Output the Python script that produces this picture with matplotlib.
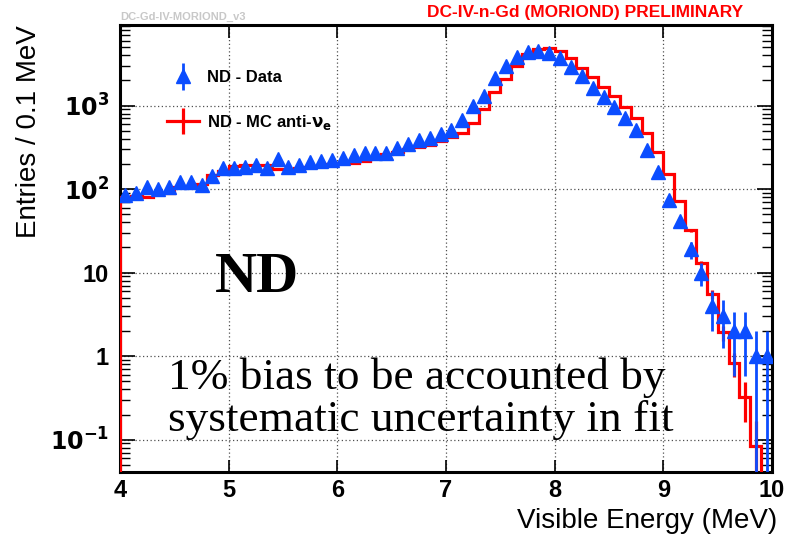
import numpy as np
import matplotlib
matplotlib.use("Agg")
import matplotlib.pyplot as plt
from matplotlib.lines import Line2D
from matplotlib.legend_handler import HandlerErrorbar
from matplotlib.container import ErrorbarContainer
from matplotlib.ticker import FixedLocator, FixedFormatter, LogLocator, NullFormatter

# ---------------- data ----------------
e_min, e_max, n_bins = 4.0, 10.0, 60

data_counts = [85, 90, 107, 100, 107, 120, 120, 112, 143, 177,
               177, 185, 194, 177, 227, 185, 194, 209, 218, 222,
               236, 255, 268, 268, 270, 314, 349, 386, 405, 450,
               514, 664, 990, 1300, 2120, 2970, 3780, 4340, 4540, 4220,
               3670, 2920, 2260, 1630, 1250, 951, 703, 509, 293, 161,
               74, 41, 19, 10, 4, 3, 2, 2, 1, 1]

mc_counts = [81, 82, 80, 89, 90, 106, 106, 116, 147, 165,
             190, 195, 195, 192, 175, 172, 178, 183, 190, 199,
             203, 205, 218, 235, 260, 280, 299, 317, 340, 374,
             420, 475, 625, 910, 1460, 2090, 2950, 4120, 4730, 4840,
             4450, 3670, 2810, 2190, 1680, 1285, 968, 712, 472, 280,
             150, 72, 32, 12.9, 5.5, 1.92, 0.83, 0.326, 0.084, 0.0]
mc_weight = 0.084   # MC event weight (sets size of MC stat. errors)

x_ticks = [4, 5, 6, 7, 8, 9, 10]
y_ticks = [0.1, 1, 10, 100, 1000]
y_tick_labels = [r"$\mathbf{10^{-1}}$", "1", "10", r"$\mathbf{10^{2}}$", r"$\mathbf{10^{3}}$"]

label_data = "ND - Data"
label_mc = r"ND - MC anti-$\mathbf{\nu_{e}}$"

# ---------------- figure ----------------
W, H = 799, 537
fig = plt.figure(figsize=(W / 100, H / 100), dpi=100)
ax = fig.add_axes([120 / W, 1 - 472 / H, (772 - 120) / W, (472 - 25) / H])

edges = np.linspace(e_min, e_max, n_bins + 1)
centers = 0.5 * (edges[:-1] + edges[1:])
data = np.array(data_counts, dtype=float)
mc = np.array(mc_counts, dtype=float)

blue = "#0b4dff"
red = "#ff0000"
tiny = 1e-3

ax.set_yscale("log")

# MC histogram outline
mc_draw = np.where(mc > 0, mc, tiny)
ax.stairs(mc_draw, edges, baseline=tiny, color=red, lw=2.3, zorder=3)
# MC stat errors
m = mc > 0
mc_err = np.sqrt(mc[m] * mc_weight)
ax.errorbar(centers[m], mc[m], yerr=mc_err, fmt="none", ecolor=red,
            elinewidth=2.3, capsize=0, zorder=3)

# Data points
err = np.sqrt(data)
lo = np.minimum(err, data - 1e-6)
cont = ax.errorbar(centers, data, yerr=[lo, err], fmt="^", ms=10, color=blue,
                   mec=blue, elinewidth=2.0, capsize=0, zorder=5)

ax.set_xlim(e_min, e_max)
ax.set_ylim(0.041, 9200)

ax.xaxis.set_major_locator(FixedLocator(x_ticks))
ax.set_xticklabels([str(t) for t in x_ticks])
ax.yaxis.set_major_locator(FixedLocator(y_ticks))
ax.yaxis.set_major_formatter(FixedFormatter(y_tick_labels))
ax.yaxis.set_minor_locator(LogLocator(base=10, subs=np.arange(2, 10), numticks=20))
ax.yaxis.set_minor_formatter(NullFormatter())

for lab in ax.get_xticklabels() + ax.get_yticklabels():
    lab.set_fontfamily("Liberation Sans")
    lab.set_fontweight("bold")
    lab.set_fontsize(17)

ax.tick_params(axis="x", which="major", direction="in", length=9, width=1.2,
               top=True, bottom=True, pad=5)
ax.tick_params(axis="x", which="minor", bottom=False, top=False)
ax.tick_params(axis="y", which="major", direction="in", length=11, width=1.2,
               left=True, right=True, pad=8)
ax.tick_params(axis="y", which="minor", direction="in", length=7, width=1.0,
               left=True, right=True)

ax.grid(True, which="major", ls=(0, (1, 2)), color="#505050", lw=0.9)
ax.set_axisbelow(True)
for s in ax.spines.values():
    s.set_linewidth(2.2)

# Legend
mc_handle = Line2D([], [], color=red, lw=2.3, marker="|", ms=19, mew=2.3)
leg = ax.legend([cont, mc_handle], [label_data, label_mc],
                loc="upper left", bbox_to_anchor=(167 / W, 1 - 70 / H),
                bbox_transform=fig.transFigure, frameon=False,
                prop={"family": "Liberation Sans", "weight": "bold", "size": 12},
                handlelength=1.9, handletextpad=0.5, labelspacing=1.65,
                borderpad=0, borderaxespad=0,
                handler_map={ErrorbarContainer: HandlerErrorbar(xerr_size=0.8)})

# Labels
fig.text(29 / W, 1 - 25 / H, "Entries / 0.1 MeV", rotation=90, ha="center",
         va="top", fontsize=20, family="Liberation Sans")
fig.text(777 / W, 1 - 521 / H, "Visible Energy (MeV)", ha="right", va="center",
         fontsize=20, family="Liberation Sans")
fig.text(427 / W, 1 - 12 / H, "DC-IV-n-Gd (MORIOND) PRELIMINARY", ha="left",
         va="center", fontsize=12.5, color=red, weight="bold", family="Liberation Sans")
fig.text(120 / W, 1 - 17 / H, "DC-Gd-IV-MORIOND_v3", ha="left", va="center",
         fontsize=8, color="#c8c8c8", weight="bold", family="Liberation Sans")

# Annotations
fig.text(215 / W, 1 - 278 / H, "ND", ha="left", va="center", fontsize=42,
         weight="bold", family="Liberation Serif")
fig.text(168 / W, 1 - 378 / H, "1% bias to be accounted by", ha="left", va="center",
         fontsize=32.7, family="Liberation Serif")
fig.text(168 / W, 1 - 420 / H, "systematic uncertainty in fit", ha="left", va="center",
         fontsize=32.7, family="Liberation Serif")

fig.savefig("out.png", dpi=100)
